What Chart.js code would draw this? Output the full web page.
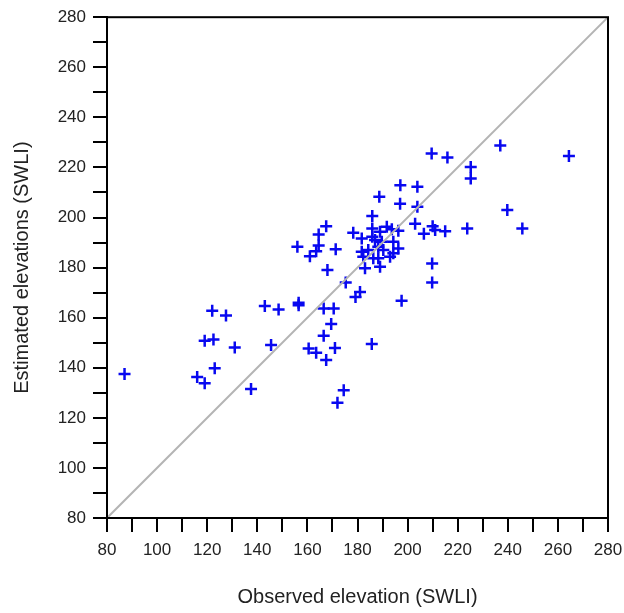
<!DOCTYPE html>
<html lang="en">
<head>
<meta charset="UTF-8">
<title>Observed vs estimated elevations (SWLI)</title>
<script src="https://cdn.jsdelivr.net/npm/chart.js"></script>
<style>
  body { margin: 0; background: #fff; }
  #wrap { width: 624px; height: 613px; }
</style>
</head>
<body>
<div id="wrap"><canvas id="chart" width="624" height="613"></canvas></div>
<script>
// observed elevation (x) and estimated elevation (y)
const observed = [
  87, 116, 119, 123, 119, 122.5, 131, 122, 127.5, 137.5,
  143, 148.5, 145.5, 156.5, 156.5, 160.5, 163.5, 167.5, 171, 166.5,
  169.5, 166.5, 170.5, 174.5, 172, 156, 161, 163.5, 164.5, 164.5,
  167.5, 171.3, 168, 175.3, 179.2, 181, 185.7, 197.6, 209.8, 209.8,
  185.9, 178.3, 181.7, 185.9, 185.9, 189, 191.7, 193.7, 196.3, 187,
  189.7, 194.3, 181.7, 184.3, 188.3, 190.3, 196.3, 182.3, 186.3, 188.3,
  193, 194.3, 183, 189,
  188.7, 197.1, 203.9, 197, 203.9, 203, 206.5, 210, 211, 215,
  209.6, 215.9, 225.2, 225.2, 237, 264.4, 223.8, 239.8, 245.8
];
const estimated = [
  137.5, 136.3, 133.8, 139.8, 150.8, 151.3, 148.1, 162.8, 160.9, 131.5,
  164.7, 163.3, 149.1, 166, 165, 147.7, 146, 143.1, 147.9, 152.8,
  157.5, 163.7, 163.7, 131, 126, 188.3, 184.5, 186.5, 188.8, 193.2,
  196.5, 187.3, 179, 174, 168.3, 170.3, 149.5, 166.8, 181.6, 174,
  200.6, 193.9, 191.6, 195.6, 192.3, 194.3, 196.3, 195.3, 194.7, 191,
  190.3, 190.3, 186.3, 187, 188.3, 187, 187.6, 184.3, 183.7, 183.7,
  184.3, 185.7, 179.7, 180.3,
  208.3, 212.9, 212.3, 205.5, 204.3, 197.5, 193.5, 196.5, 195, 194.5,
  225.6, 224, 220.2, 215.6, 228.8, 224.6, 195.6, 203, 195.6
];
const axisMin = 80;
const axisMax = 280;
const tickStep = 10;
const labelStep = 20;

const points = observed.map((x, i) => ({ x: x, y: estimated[i] }));
const oneToOne = [{ x: axisMin, y: axisMin }, { x: axisMax, y: axisMax }];

// full box around the plot area
const frame = {
  id: 'frame',
  afterDraw(chart) {
    const a = chart.chartArea, c = chart.ctx;
    c.save();
    c.strokeStyle = '#000';
    c.lineWidth = 2;
    c.strokeRect(a.left, a.top, a.right - a.left, a.bottom - a.top);
    c.restore();
  }
};

const tickFont = { family: "'Liberation Sans', Arial, sans-serif", size: 17 };
const titleFont = { family: "'Liberation Sans', Arial, sans-serif", size: 20 };
const labelEvery = v => (v % labelStep === 0 ? v : '');

new Chart(document.getElementById('chart'), {
  type: 'scatter',
  data: {
    datasets: [
      {
        type: 'line', data: oneToOne, borderColor: '#b4b4b4', borderWidth: 2,
        pointRadius: 0, fill: false
      },
      {
        data: points, pointStyle: 'cross', pointRadius: 6, pointBorderWidth: 2.5,
        borderColor: '#0808f0', backgroundColor: '#0808f0'
      }
    ]
  },
  options: {
    responsive: false,
    animation: false,
    layout: { padding: { top: 17, right: 0, left: 0, bottom: 0 } },
    plugins: { legend: { display: false }, tooltip: { enabled: false } },
    scales: {
      x: {
        type: 'linear', min: axisMin, max: axisMax,
        afterFit: s => { s.height = 95; s.paddingRight = 16; },
        border: { color: '#000', width: 2 },
        grid: { drawOnChartArea: false, color: '#000', lineWidth: 2, tickLength: 14 },
        ticks: { stepSize: tickStep, autoSkip: false, maxRotation: 0, color: '#222', font: tickFont, padding: 8, callback: labelEvery },
        title: { display: true, text: 'Observed elevation (SWLI)', color: '#222', font: titleFont, padding: { top: 22 } }
      },
      y: {
        type: 'linear', min: axisMin, max: axisMax,
        afterFit: s => { s.width = 107; },
        border: { color: '#000', width: 2 },
        grid: { drawOnChartArea: false, color: '#000', lineWidth: 2, tickLength: 14 },
        ticks: { stepSize: tickStep, autoSkip: false, color: '#222', font: tickFont, padding: 7, callback: labelEvery },
        title: { display: true, text: 'Estimated elevations (SWLI)', color: '#222', font: titleFont, padding: { top: 10, bottom: 4 } }
      }
    }
  },
  plugins: [frame]
});
</script>
</body>
</html>
